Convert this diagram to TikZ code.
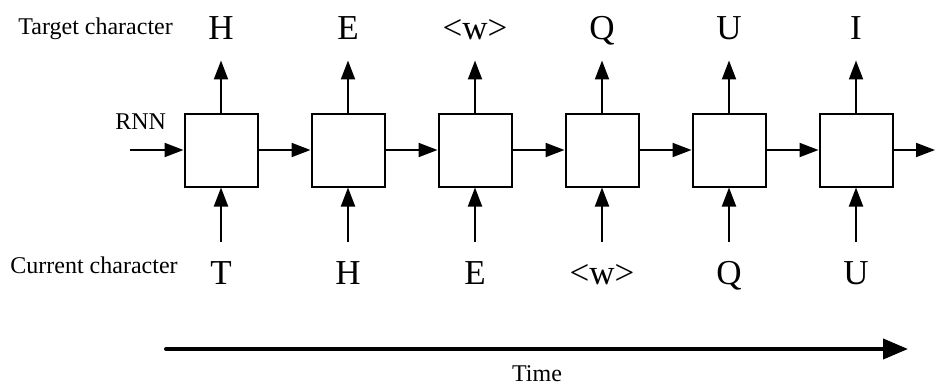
\documentclass[tikz,border=0pt]{standalone}
\usepackage{fontspec}
\setmainfont{Liberation Serif}
\usepackage{tikz}
\usetikzlibrary{arrows.meta, positioning}

\begin{document}
\begin{tikzpicture}[
        node distance=26pt,
        cell/.style={rectangle, draw=black, fill=white, minimum size=36.5pt, inner sep=0pt, line width=1pt},
        char/.style={font=\fontsize{17.5}{20}\selectfont, text height=12pt, text depth=0pt, inner sep=0pt},
        lbl/.style={font=\fontsize{12}{14}\selectfont, inner sep=0pt},
        arrow/.style={-{Triangle[length=9.5pt, width=7pt]}, line width=1pt, black},
        timearrow/.style={-{Triangle[length=12.5pt, width=10pt]}, line width=2pt, line cap=round, black}
    ]

    \useasboundingbox (0,0) rectangle (467.5pt,-192.5pt);

    % RNN cells unrolled in time
    \node[cell] (c1) at (110.5pt,-75pt) {};
    \node[cell, right=of c1] (c2) {};
    \node[cell, right=of c2] (c3) {};
    \node[cell, right=of c3] (c4) {};
    \node[cell, right=of c4] (c5) {};
    \node[cell, right=of c5] (c6) {};

    % target characters
    \node[char, above=36.5pt of c1] (tgt1) {H};
    \node[char, above=36.5pt of c2] (tgt2) {E};
    \node[char, above=36.5pt of c3] (tgt3) {<w>};
    \node[char, above=36.5pt of c4] (tgt4) {Q};
    \node[char, above=36.5pt of c5] (tgt5) {U};
    \node[char, above=36.5pt of c6] (tgt6) {I};

    % current characters
    \node[char, below=36.5pt of c1] (cur1) {T};
    \node[char, below=36.5pt of c2] (cur2) {H};
    \node[char, below=36.5pt of c3] (cur3) {E};
    \node[char, below=36.5pt of c4] (cur4) {<w>};
    \node[char, below=36.5pt of c5] (cur5) {Q};
    \node[char, below=36.5pt of c6] (cur6) {U};

    % row labels
    \node[lbl, anchor=base west] (tgtlbl) at (9pt,-17.5pt) {Target character};
    \node[lbl, anchor=base west] (curlbl) at (5pt,-136.5pt) {Current character};
    \node[lbl, anchor=base west] (rnnlbl) at (57.5pt,-64.5pt) {RNN};

    \coordinate (hin) at (65pt,-75pt);
    \coordinate (hout) at (467.5pt,-75pt);

    % hidden state
    \draw[arrow] (hin) -- (c1.west);
    \draw[arrow] (c1) -- (c2);
    \draw[arrow] (c2) -- (c3);
    \draw[arrow] (c3) -- (c4);
    \draw[arrow] (c4) -- (c5);
    \draw[arrow] (c5) -- (c6);
    \draw[arrow] (c6.east) -- (hout);

    % outputs
    \draw[arrow, shorten >=10.5pt] (c1.north) -- (tgt1.south);
    \draw[arrow, shorten >=10.5pt] (c2.north) -- (tgt2.south);
    \draw[arrow, shorten >=10.5pt] (c3.north) -- (tgt3.south);
    \draw[arrow, shorten >=10.5pt] (c4.north) -- (tgt4.south);
    \draw[arrow, shorten >=10.5pt] (c5.north) -- (tgt5.south);
    \draw[arrow, shorten >=10.5pt] (c6.north) -- (tgt6.south);

    % inputs
    \draw[arrow, shorten <=9.5pt] (cur1.north) -- (c1.south);
    \draw[arrow, shorten <=9.5pt] (cur2.north) -- (c2.south);
    \draw[arrow, shorten <=9.5pt] (cur3.north) -- (c3.south);
    \draw[arrow, shorten <=9.5pt] (cur4.north) -- (c4.south);
    \draw[arrow, shorten <=9.5pt] (cur5.north) -- (c5.south);
    \draw[arrow, shorten <=9.5pt] (cur6.north) -- (c6.south);

    % time axis
    \coordinate (tstart) at (83pt,-174.5pt);
    \coordinate (tend) at (454pt,-174.5pt);
    \draw[timearrow] (tstart) -- (tend);
    \node[lbl, anchor=base] (timelbl) at (268.5pt,-190.5pt) {Time};

\end{tikzpicture}
\end{document}
